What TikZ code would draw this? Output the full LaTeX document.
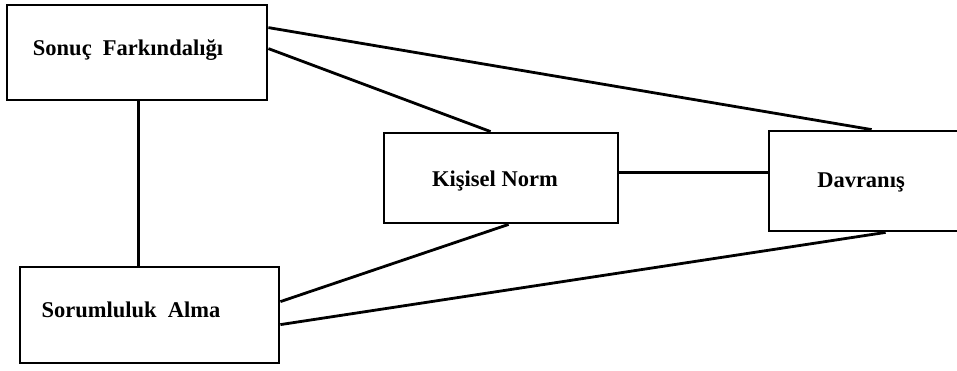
\documentclass[tikz,border=0pt]{standalone}
\usepackage{fontspec}
\setmainfont{Liberation Serif}
\usetikzlibrary{calc}
\begin{document}
\begin{tikzpicture}[x=1pt,y=-1pt,
  box/.style={draw=black, line width=2.8pt, fill=white, rectangle, inner sep=0pt},
  lbl/.style={font=\bfseries\fontsize{22.5}{26}\selectfont, inner sep=0pt},
  conn/.style={draw=black, line width=2.8pt}]
\useasboundingbox (0,0) rectangle (957,370);
\clip (0,0) rectangle (957,370);
\fill[white] (0,0) rectangle (957,370);
% boxes
\node[box, minimum width=260pt, minimum height=95pt,
  label={[lbl, xshift=-9pt, yshift=2.5pt]center:Sonuç~~Farkındalığı}] (s) at (137,52.5) {};
\node[box, minimum width=259pt, minimum height=96pt,
  label={[lbl, xshift=-18.5pt, yshift=5pt]center:Sorumluluk~~Alma}] (r) at (149.5,315) {};
\node[box, minimum width=234pt, minimum height=90pt,
  label={[lbl, xshift=-6pt, yshift=-3pt]center:Kişisel Norm}] (k) at (501,178) {};
\node[box, minimum width=211pt, minimum height=100pt,
  label={[lbl, xshift=-13.5pt, yshift=-1pt]center:Davranış}] (d) at (874.5,181) {};
% connectors
\draw[conn] ($(s.south west)+(133,0)$) -- ($(r.north west)+(120,0)$);
\draw[conn] ($(s.north east)+(0,24)$) -- ($(d.north west)+(104,0)$);
\draw[conn] ($(s.north east)+(0,45)$) -- ($(k.north west)+(108,0)$);
\draw[conn] ($(r.north east)+(0,36)$) -- ($(k.south west)+(126,0)$);
\draw[conn] ($(r.north east)+(0,59)$) -- ($(d.south west)+(118,0)$);
\draw[conn] ($(k.north east)+(0,41)$) -- ($(d.north west)+(0,43)$);
\end{tikzpicture}
\end{document}
